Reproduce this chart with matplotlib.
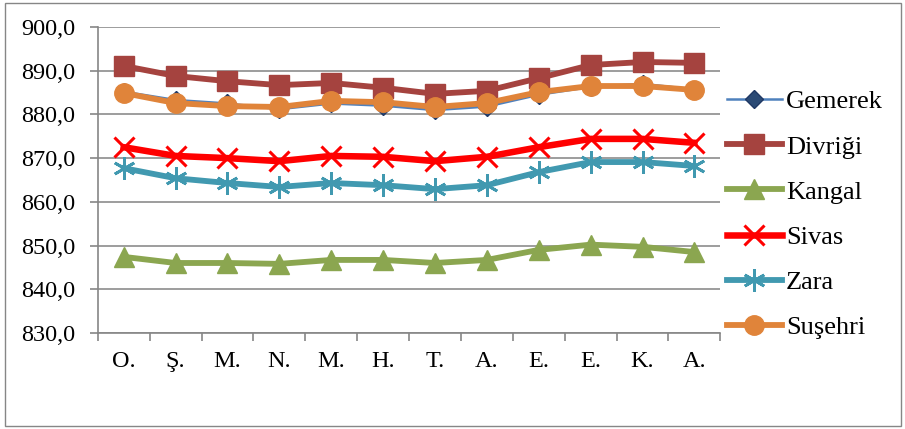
import matplotlib
matplotlib.use("Agg")
import matplotlib.pyplot as plt
from matplotlib.ticker import FuncFormatter, MultipleLocator
from matplotlib.patches import Rectangle

categories = ["O.", "Ş.", "M.", "N.", "M.", "H.", "T.", "A.", "E.", "E.", "K.", "A."]
gemerek = [885.2, 883.3, 882.5, 881.2, 882.5, 882.0, 881.0, 881.8, 884.5, 886.3, 887.0, 885.7]
divrigi = [891.1, 888.8, 887.6, 886.7, 887.2, 886.1, 884.7, 885.4, 888.3, 891.3, 892.0, 891.8]
kangal = [847.4, 846.0, 846.0, 845.8, 846.7, 846.7, 846.0, 846.7, 849.0, 850.2, 849.7, 848.5]
sivas = [872.5, 870.5, 870.0, 869.3, 870.5, 870.3, 869.3, 870.3, 872.5, 874.4, 874.4, 873.5]
zara = [867.7, 865.4, 864.3, 863.4, 864.3, 863.8, 862.9, 863.8, 866.8, 869.1, 869.1, 868.2]
susehri = [884.9, 882.6, 881.9, 881.7, 883.1, 882.8, 881.7, 882.6, 885.1, 886.5, 886.5, 885.6]

plt.rcParams['font.family'] = ['Liberation Serif', 'DejaVu Serif']

fig = plt.figure(figsize=(9.05, 4.29), dpi=100)
ax = fig.add_axes([0.108, 0.224, 0.688, 0.713])

x = list(range(len(categories)))
lw = 4.2
ax.plot(x, gemerek, color="#4F81BD", lw=1.8, marker="D", ms=9, mfc="#2B4A75", mec="#1F3864", label="Gemerek", zorder=3)
ax.plot(x, divrigi, color="#A5433F", lw=lw, marker="s", ms=14, mfc="#A5433F", mec="#A5433F", label="Divriği", zorder=4)
ax.plot(x, kangal, color="#8BA650", lw=lw, marker="^", ms=15, mfc="#8BA650", mec="#8BA650", label="Kangal", zorder=4)
ax.plot(x, sivas, color="#FF0000", lw=lw + 0.5, marker="x", ms=15, mew=2.2, mfc="#FF0000", mec="#FF0000", label="Sivas", zorder=4)
ax.plot(x, zara, color="#4199B0", lw=lw, marker=(6, 2, 0), ms=16, mew=2.0, mec="#4199B0", label="Zara", zorder=4)
ax.plot(x, susehri, color="#E0843A", lw=lw, marker="o", ms=14, mfc="#E0843A", mec="#E0843A", label="Suşehri", zorder=5)

ax.set_xlim(-0.5, len(categories) - 0.5)
ax.set_ylim(830, 900)
ax.yaxis.set_major_locator(MultipleLocator(10))
ax.yaxis.set_major_formatter(FuncFormatter(lambda v, p: f"{v:.1f}".replace(".", ",")))
ax.set_xticks(x)
ax.set_xticklabels(categories)
ax.set_xticks([i - 0.5 for i in range(len(categories) + 1)], minor=True)
ax.tick_params(axis='x', which='major', length=0, pad=13, labelsize=17.5)
ax.tick_params(axis='x', which='minor', length=6, color="#868686", width=1.2)
ax.tick_params(axis='y', length=6, color="#868686", width=1.2, labelsize=17.5, pad=10)
ax.grid(axis='y', color="#8C8C8C", lw=1.2)
ax.set_axisbelow(True)
for s in ["top", "right"]:
    ax.spines[s].set_visible(False)
for s in ["left", "bottom"]:
    ax.spines[s].set_color("#868686")
    ax.spines[s].set_linewidth(1.2)

leg = fig.legend(handles=ax.get_lines(), loc="center left", bbox_to_anchor=(0.803, 0.500),
                 frameon=False, fontsize=19, borderpad=0, borderaxespad=0,
                 handlelength=2.1, handletextpad=0.15, labelspacing=0.82)

fig.patches.append(Rectangle((0.006, 0.008), 0.99, 0.985, transform=fig.transFigure,
                             fill=False, edgecolor="#868686", lw=1.0))

fig.savefig("out.png", dpi=100)
